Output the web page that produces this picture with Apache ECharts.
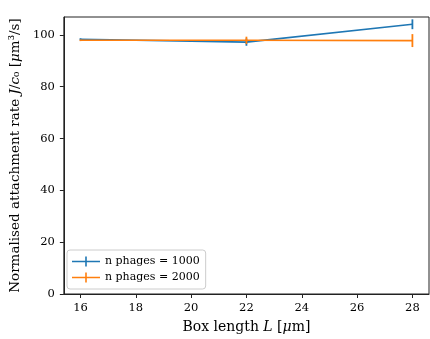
<!DOCTYPE html>
<html>
<head>
<meta charset="utf-8">
<script src="https://cdn.jsdelivr.net/npm/echarts@6/dist/echarts.min.js"></script>
<style>
  html, body { margin: 0; padding: 0; background: #fff; }
  #chart { width: 430px; height: 339px; }
</style>
</head>
<body>
<div id="chart"></div>
<script>
// box lengths (x) and measured rates
var boxLength = [16, 22, 28];
var rate1000 = [98.3, 97.2, 104.1];
var err1000 = [0.4, 1.4, 1.9];
var rate2000 = [97.9, 97.9, 97.8];
var err2000 = [0.3, 1.4, 2.5];
var seriesNames = ['n phages = 1000', 'n phages = 2000'];
var xTicks = [16, 18, 20, 22, 24, 26, 28];
var yTicks = [0, 20, 40, 60, 80, 100];

var blue = '#1f77b4', orange = '#ff7f0e';
var font = '"DejaVu Serif", "Liberation Serif", serif';

function lineData(vals) {
  return boxLength.map(function (x, i) { return [x, vals[i]]; });
}
function errData(vals, errs) {
  return boxLength.map(function (x, i) { return [x, vals[i] - errs[i], vals[i] + errs[i]]; });
}
// vertical error bar
function errRender(color) {
  return function (params, api) {
    var lo = api.coord([api.value(0), api.value(1)]);
    var hi = api.coord([api.value(0), api.value(2)]);
    return {
      type: 'line',
      shape: { x1: lo[0], y1: lo[1], x2: hi[0], y2: hi[1] },
      style: { stroke: color, lineWidth: 1.8 }
    };
  };
}

var plusIcon = 'path://M0,4.2L28,4.2L28,5.8L0,5.8Z M13.2,0L14.8,0L14.8,10L13.2,10Z';
function richOf(size) {
  return {
    n: { fontFamily: font, fontSize: size, color: '#000' },
    i: { fontFamily: font, fontSize: size, fontStyle: 'italic', color: '#000' }
  };
}

var chart = echarts.init(document.getElementById('chart'));
var option = {
  animation: false,
  textStyle: { fontFamily: font },
  grid: {
    left: 61, right: 1, top: 17, bottom: 44,
    show: true, borderColor: '#222', borderWidth: 1
  },
  legend: {
    left: 67, top: 250,
    orient: 'vertical',
    itemWidth: 28, itemHeight: 10, itemGap: 5,
    padding: [6, 6, 6, 5],
    borderColor: '#ccc', borderWidth: 1, borderRadius: 3,
    backgroundColor: '#fff',
    textStyle: { fontFamily: font, fontSize: 11, color: '#000' },
    data: [
      { name: seriesNames[0], icon: plusIcon, itemStyle: { color: blue } },
      { name: seriesNames[1], icon: plusIcon, itemStyle: { color: orange } }
    ]
  },
  xAxis: {
    type: 'value',
    min: 15.4, max: 28.6,
    name: '{n|Box length }{i|L}{n| [}{i|μ}{n|m]}',
    nameLocation: 'middle', nameGap: 26,
    nameTextStyle: { rich: richOf(14) },
    axisLine: { lineStyle: { color: '#222' } },
    axisTick: { length: 4, lineStyle: { color: '#222' }, customValues: xTicks },
    axisLabel: { fontSize: 11.5, color: '#000', margin: 8, customValues: xTicks },
    splitLine: { show: false }
  },
  yAxis: {
    type: 'value',
    min: 0, max: 106.9,
    name: '{n|Normalised attachment rate }{i|J}{n|/}{i|c}{n|₀ [}{i|μ}{n|m³/s]}',
    nameLocation: 'middle', nameGap: 38,
    nameTextStyle: { rich: richOf(13.5) },
    axisLine: { show: true, lineStyle: { color: '#222' } },
    axisTick: { show: true, length: 4, lineStyle: { color: '#222' }, customValues: yTicks },
    axisLabel: { fontSize: 11.5, color: '#000', margin: 9, customValues: yTicks },
    splitLine: { show: false }
  },
  series: [
    {
      name: seriesNames[0], type: 'line', data: lineData(rate1000),
      symbol: 'none', color: blue, lineStyle: { width: 1.6, color: blue }, z: 3
    },
    {
      name: seriesNames[0], type: 'custom', data: errData(rate1000, err1000),
      renderItem: errRender(blue), encode: { x: 0, y: [1, 2] }, z: 3
    },
    {
      name: seriesNames[1], type: 'line', data: lineData(rate2000),
      symbol: 'none', color: orange, lineStyle: { width: 1.6, color: orange }, z: 4
    },
    {
      name: seriesNames[1], type: 'custom', data: errData(rate2000, err2000),
      renderItem: errRender(orange), encode: { x: 0, y: [1, 2] }, z: 4
    }
  ]
};
chart.setOption(option);
window.onresize = function () { chart.resize(); };
</script>
</body>
</html>
